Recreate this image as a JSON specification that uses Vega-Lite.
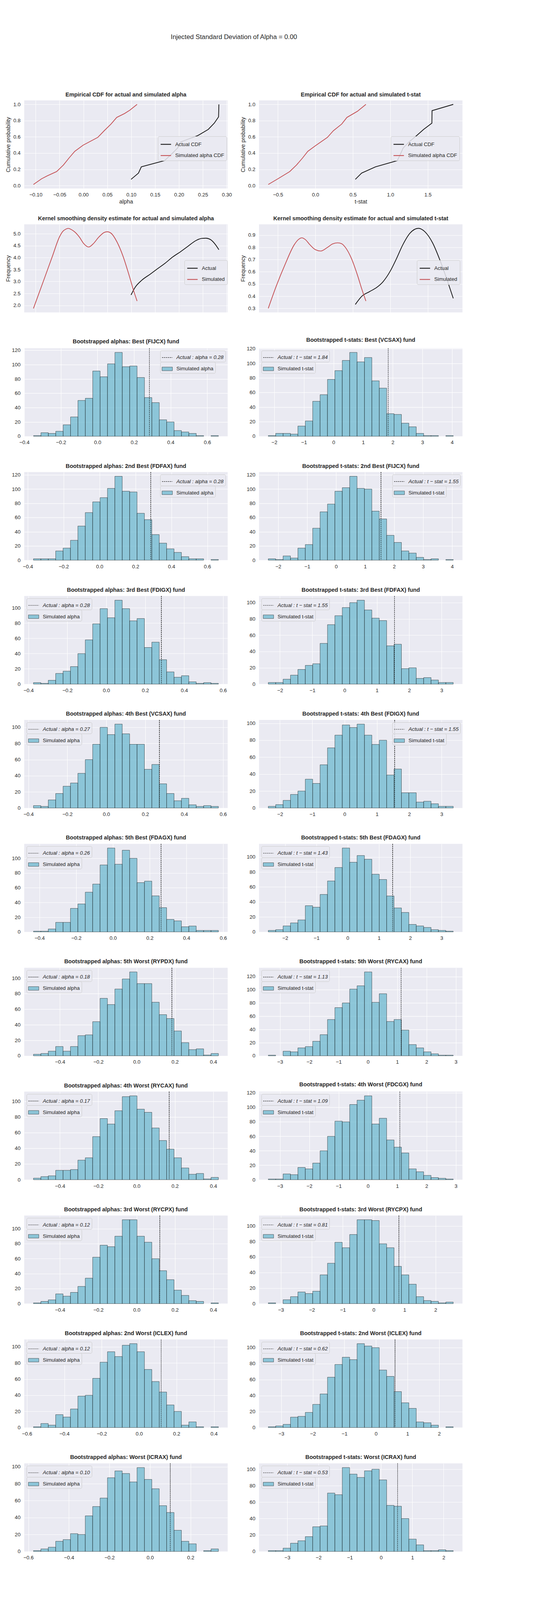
{
"$schema":"https://vega.github.io/schema/vega-lite/v6.json",
"background":"white",
"padding":{"left":13,"top":86,"right":0,"bottom":0},
"title":{"text":"Injected Standard Deviation of Alpha = 0.00","fontSize":16.8,"fontWeight":"normal","anchor":"middle","frame":"bounds","offset":118,"baseline":"alphabetic"},
"columns":2,
"spacing":{"row":91.2,"column":80},
"bounds":"flush",
"resolve":{"scale":{"color":"independent","fill":"independent","strokeDash":"independent"},"legend":{"color":"independent","fill":"independent","strokeDash":"independent"}},
"datasets":{
"cdfA":[{"x":0.0997,"y":0.0769,"s":"Actual CDF"},{"x":0.1152,"y":0.1538,"s":"Actual CDF"},{"x":0.1212,"y":0.2308,"s":"Actual CDF"},{"x":0.1698,"y":0.3077,"s":"Actual CDF"},{"x":0.184,"y":0.3846,"s":"Actual CDF"},{"x":0.197,"y":0.4615,"s":"Actual CDF"},{"x":0.204,"y":0.5385,"s":"Actual CDF"},{"x":0.2393,"y":0.6154,"s":"Actual CDF"},{"x":0.2614,"y":0.6923,"s":"Actual CDF"},{"x":0.274,"y":0.7692,"s":"Actual CDF"},{"x":0.2829,"y":0.8462,"s":"Actual CDF"},{"x":0.2833,"y":0.9231,"s":"Actual CDF"},{"x":0.2836,"y":1.0,"s":"Actual CDF"},
{"x":-0.1047,"y":0.0137,"s":"Simulated alpha CDF"},{"x":-0.0877,"y":0.0836,"s":"Simulated alpha CDF"},{"x":-0.0757,"y":0.1205,"s":"Simulated alpha CDF"},{"x":-0.0561,"y":0.1726,"s":"Simulated alpha CDF"},{"x":-0.0419,"y":0.2534,"s":"Simulated alpha CDF"},{"x":-0.0302,"y":0.3397,"s":"Simulated alpha CDF"},{"x":-0.0182,"y":0.4219,"s":"Simulated alpha CDF"},{"x":-0.0008,"y":0.4973,"s":"Simulated alpha CDF"},{"x":0.0299,"y":0.5932,"s":"Simulated alpha CDF"},{"x":0.0434,"y":0.6753,"s":"Simulated alpha CDF"},{"x":0.0577,"y":0.7575,"s":"Simulated alpha CDF"},{"x":0.0697,"y":0.8397,"s":"Simulated alpha CDF"},{"x":0.0861,"y":0.8877,"s":"Simulated alpha CDF"},{"x":0.0972,"y":0.9288,"s":"Simulated alpha CDF"},{"x":0.1123,"y":1.0,"s":"Simulated alpha CDF"}],
"cdfT":[{"x":0.533,"y":0.0769,"s":"Actual CDF"},{"x":0.617,"y":0.1538,"s":"Actual CDF"},{"x":0.802,"y":0.2308,"s":"Actual CDF"},{"x":1.093,"y":0.3077,"s":"Actual CDF"},{"x":1.133,"y":0.3846,"s":"Actual CDF"},{"x":1.17,"y":0.4615,"s":"Actual CDF"},{"x":1.25,"y":0.5385,"s":"Actual CDF"},{"x":1.35,"y":0.6154,"s":"Actual CDF"},{"x":1.444,"y":0.6923,"s":"Actual CDF"},{"x":1.554,"y":0.7692,"s":"Actual CDF"},{"x":1.555,"y":0.8462,"s":"Actual CDF"},{"x":1.556,"y":0.9231,"s":"Actual CDF"},{"x":1.839,"y":1.0,"s":"Actual CDF"},
{"x":-0.628,"y":0.0137,"s":"Simulated alpha CDF"},{"x":-0.5,"y":0.0836,"s":"Simulated alpha CDF"},{"x":-0.342,"y":0.1726,"s":"Simulated alpha CDF"},{"x":-0.251,"y":0.2534,"s":"Simulated alpha CDF"},{"x":-0.171,"y":0.3397,"s":"Simulated alpha CDF"},{"x":-0.101,"y":0.4219,"s":"Simulated alpha CDF"},{"x":-0.0005,"y":0.4904,"s":"Simulated alpha CDF"},{"x":0.16,"y":0.5932,"s":"Simulated alpha CDF"},{"x":0.24,"y":0.6753,"s":"Simulated alpha CDF"},{"x":0.351,"y":0.7575,"s":"Simulated alpha CDF"},{"x":0.421,"y":0.8397,"s":"Simulated alpha CDF"},{"x":0.561,"y":0.915,"s":"Simulated alpha CDF"},{"x":0.674,"y":1.0,"s":"Simulated alpha CDF"}],
"kdeA":[{"x":0.0997,"y":2.44,"s":"Actual"},{"x":0.108,"y":2.75,"s":"Actual"},{"x":0.1208,"y":3.03,"s":"Actual"},{"x":0.14,"y":3.31,"s":"Actual"},{"x":0.1556,"y":3.54,"s":"Actual"},{"x":0.1714,"y":3.77,"s":"Actual"},{"x":0.1872,"y":4.03,"s":"Actual"},{"x":0.203,"y":4.24,"s":"Actual"},{"x":0.2188,"y":4.47,"s":"Actual"},{"x":0.2346,"y":4.7,"s":"Actual"},{"x":0.2472,"y":4.8,"s":"Actual"},{"x":0.2567,"y":4.81,"s":"Actual"},{"x":0.2662,"y":4.75,"s":"Actual"},{"x":0.2757,"y":4.56,"s":"Actual"},{"x":0.2836,"y":4.33,"s":"Actual"},
{"x":-0.1047,"y":1.875,"s":"Simulated"},{"x":-0.0814,"y":3.15,"s":"Simulated"},{"x":-0.0656,"y":4.02,"s":"Simulated"},{"x":-0.0498,"y":4.88,"s":"Simulated"},{"x":-0.0434,"y":5.09,"s":"Simulated"},{"x":-0.0371,"y":5.185,"s":"Simulated"},{"x":-0.0318,"y":5.22,"s":"Simulated"},{"x":-0.0245,"y":5.16,"s":"Simulated"},{"x":-0.0182,"y":5.07,"s":"Simulated"},{"x":-0.0087,"y":4.86,"s":"Simulated"},{"x":0.0008,"y":4.58,"s":"Simulated"},{"x":0.0109,"y":4.44,"s":"Simulated"},{"x":0.0197,"y":4.56,"s":"Simulated"},{"x":0.0324,"y":4.86,"s":"Simulated"},{"x":0.0434,"y":5.05,"s":"Simulated"},{"x":0.0498,"y":5.08,"s":"Simulated"},{"x":0.0577,"y":5.02,"s":"Simulated"},{"x":0.0703,"y":4.65,"s":"Simulated"},{"x":0.083,"y":4.05,"s":"Simulated"},{"x":0.0956,"y":3.26,"s":"Simulated"},{"x":0.1066,"y":2.52,"s":"Simulated"},{"x":0.1123,"y":2.185,"s":"Simulated"}],
"kdeT":[{"x":0.533,"y":0.332,"s":"Actual"},{"x":0.621,"y":0.4,"s":"Actual"},{"x":0.722,"y":0.437,"s":"Actual"},{"x":0.822,"y":0.473,"s":"Actual"},{"x":0.902,"y":0.518,"s":"Actual"},{"x":1.002,"y":0.609,"s":"Actual"},{"x":1.083,"y":0.709,"s":"Actual"},{"x":1.163,"y":0.817,"s":"Actual"},{"x":1.263,"y":0.917,"s":"Actual"},{"x":1.374,"y":0.956,"s":"Actual"},{"x":1.464,"y":0.926,"s":"Actual"},{"x":1.564,"y":0.836,"s":"Actual"},{"x":1.664,"y":0.691,"s":"Actual"},{"x":1.765,"y":0.518,"s":"Actual"},{"x":1.839,"y":0.382,"s":"Actual"},
{"x":-0.628,"y":0.3,"s":"Simulated"},{"x":-0.522,"y":0.482,"s":"Simulated"},{"x":-0.402,"y":0.663,"s":"Simulated"},{"x":-0.281,"y":0.822,"s":"Simulated"},{"x":-0.23,"y":0.862,"s":"Simulated"},{"x":-0.181,"y":0.878,"s":"Simulated"},{"x":-0.13,"y":0.862,"s":"Simulated"},{"x":-0.081,"y":0.827,"s":"Simulated"},{"x":0.0,"y":0.781,"s":"Simulated"},{"x":0.072,"y":0.77,"s":"Simulated"},{"x":0.16,"y":0.799,"s":"Simulated"},{"x":0.23,"y":0.828,"s":"Simulated"},{"x":0.296,"y":0.837,"s":"Simulated"},{"x":0.35,"y":0.83,"s":"Simulated"},{"x":0.401,"y":0.799,"s":"Simulated"},{"x":0.481,"y":0.709,"s":"Simulated"},{"x":0.561,"y":0.573,"s":"Simulated"},{"x":0.621,"y":0.455,"s":"Simulated"},{"x":0.674,"y":0.36,"s":"Simulated"}],
"A1":[{"a":-0.349,"b":-0.3086,"n":1},{"a":-0.3086,"b":-0.2682,"n":5},{"a":-0.2682,"b":-0.2278,"n":4},{"a":-0.2278,"b":-0.1874,"n":7},{"a":-0.1874,"b":-0.147,"n":16},{"a":-0.147,"b":-0.1066,"n":27},{"a":-0.1066,"b":-0.0662,"n":50},{"a":-0.0662,"b":-0.0258,"n":53},{"a":-0.0258,"b":0.0146,"n":91},{"a":0.0146,"b":0.055,"n":83},{"a":0.055,"b":0.0954,"n":101},{"a":0.0954,"b":0.1358,"n":117},{"a":0.1358,"b":0.1762,"n":97},{"a":0.1762,"b":0.2166,"n":98},{"a":0.2166,"b":0.257,"n":82},{"a":0.257,"b":0.2974,"n":54},{"a":0.2974,"b":0.3378,"n":47},{"a":0.3378,"b":0.3782,"n":23},{"a":0.3782,"b":0.4186,"n":20},{"a":0.4186,"b":0.459,"n":8},{"a":0.459,"b":0.4994,"n":6},{"a":0.4994,"b":0.5398,"n":4},{"a":0.5398,"b":0.5802,"n":1},{"a":0.6206,"b":0.661,"n":1}],
"T1":[{"a":-2.2,"b":-1.9504,"n":1},{"a":-1.9504,"b":-1.7008,"n":4},{"a":-1.7008,"b":-1.4512,"n":4},{"a":-1.4512,"b":-1.2016,"n":3},{"a":-1.2016,"b":-0.952,"n":14},{"a":-0.952,"b":-0.7024,"n":21},{"a":-0.7024,"b":-0.4528,"n":48},{"a":-0.4528,"b":-0.2032,"n":57},{"a":-0.2032,"b":0.0464,"n":78},{"a":0.0464,"b":0.296,"n":90},{"a":0.296,"b":0.5456,"n":104},{"a":0.5456,"b":0.7952,"n":115},{"a":0.7952,"b":1.0448,"n":102},{"a":1.0448,"b":1.2944,"n":108},{"a":1.2944,"b":1.544,"n":76},{"a":1.544,"b":1.7936,"n":66},{"a":1.7936,"b":2.0432,"n":31},{"a":2.0432,"b":2.2928,"n":30},{"a":2.2928,"b":2.5424,"n":18},{"a":2.5424,"b":2.792,"n":13},{"a":2.792,"b":3.0416,"n":4},{"a":3.0416,"b":3.2912,"n":1},{"a":3.2912,"b":3.5408,"n":1},{"a":3.7904,"b":4.04,"n":1}],
"A2":[{"a":-0.368,"b":-0.3268,"n":2},{"a":-0.3268,"b":-0.2856,"n":2},{"a":-0.2856,"b":-0.2444,"n":2},{"a":-0.2444,"b":-0.2032,"n":13},{"a":-0.2032,"b":-0.162,"n":17},{"a":-0.162,"b":-0.1208,"n":28},{"a":-0.1208,"b":-0.0796,"n":48},{"a":-0.0796,"b":-0.0384,"n":67},{"a":-0.0384,"b":0.0028,"n":82},{"a":0.0028,"b":0.044,"n":88},{"a":0.044,"b":0.0852,"n":101},{"a":0.0852,"b":0.1264,"n":118},{"a":0.1264,"b":0.1676,"n":97},{"a":0.1676,"b":0.2088,"n":96},{"a":0.2088,"b":0.25,"n":66},{"a":0.25,"b":0.2912,"n":57},{"a":0.2912,"b":0.3324,"n":36},{"a":0.3324,"b":0.3736,"n":24},{"a":0.3736,"b":0.4148,"n":16},{"a":0.4148,"b":0.456,"n":11},{"a":0.456,"b":0.4972,"n":5},{"a":0.4972,"b":0.5384,"n":2},{"a":0.5384,"b":0.5796,"n":2},{"a":0.6208,"b":0.662,"n":1}],
"T2":[{"a":-2.34,"b":-2.0848,"n":2},{"a":-2.0848,"b":-1.8296,"n":1},{"a":-1.8296,"b":-1.5744,"n":6},{"a":-1.5744,"b":-1.3192,"n":3},{"a":-1.3192,"b":-1.064,"n":17},{"a":-1.064,"b":-0.8088,"n":22},{"a":-0.8088,"b":-0.5536,"n":45},{"a":-0.5536,"b":-0.2984,"n":68},{"a":-0.2984,"b":-0.0432,"n":79},{"a":-0.0432,"b":0.212,"n":97},{"a":0.212,"b":0.4672,"n":102},{"a":0.4672,"b":0.7224,"n":118},{"a":0.7224,"b":0.9776,"n":101},{"a":0.9776,"b":1.2328,"n":100},{"a":1.2328,"b":1.488,"n":69},{"a":1.488,"b":1.7432,"n":58},{"a":1.7432,"b":1.9984,"n":35},{"a":1.9984,"b":2.2536,"n":25},{"a":2.2536,"b":2.5088,"n":13},{"a":2.5088,"b":2.764,"n":10},{"a":2.764,"b":3.0192,"n":4},{"a":3.0192,"b":3.2744,"n":1},{"a":3.2744,"b":3.5296,"n":2},{"a":3.7848,"b":4.04,"n":1}],
"A3":[{"a":-0.374,"b":-0.336,"n":2},{"a":-0.336,"b":-0.298,"n":1},{"a":-0.298,"b":-0.26,"n":5},{"a":-0.26,"b":-0.222,"n":14},{"a":-0.222,"b":-0.184,"n":17},{"a":-0.184,"b":-0.146,"n":23},{"a":-0.146,"b":-0.108,"n":40},{"a":-0.108,"b":-0.07,"n":58},{"a":-0.07,"b":-0.032,"n":79},{"a":-0.032,"b":0.006,"n":99},{"a":0.006,"b":0.044,"n":87},{"a":0.044,"b":0.082,"n":110},{"a":0.082,"b":0.12,"n":99},{"a":0.12,"b":0.158,"n":83},{"a":0.158,"b":0.196,"n":86},{"a":0.196,"b":0.234,"n":48},{"a":0.234,"b":0.272,"n":55},{"a":0.272,"b":0.31,"n":32},{"a":0.31,"b":0.348,"n":16},{"a":0.348,"b":0.386,"n":9},{"a":0.386,"b":0.424,"n":11},{"a":0.424,"b":0.462,"n":3},{"a":0.462,"b":0.5,"n":1},{"a":0.5,"b":0.538,"n":2},{"a":0.538,"b":0.576,"n":1}],
"T3":[{"a":-2.36,"b":-2.1312,"n":2},{"a":-2.1312,"b":-1.9024,"n":2},{"a":-1.9024,"b":-1.6736,"n":6},{"a":-1.6736,"b":-1.4448,"n":11},{"a":-1.4448,"b":-1.216,"n":18},{"a":-1.216,"b":-0.9872,"n":23},{"a":-0.9872,"b":-0.7584,"n":25},{"a":-0.7584,"b":-0.5296,"n":50},{"a":-0.5296,"b":-0.3008,"n":73},{"a":-0.3008,"b":-0.072,"n":84},{"a":-0.072,"b":0.1568,"n":94},{"a":0.1568,"b":0.3856,"n":100},{"a":0.3856,"b":0.6144,"n":103},{"a":0.6144,"b":0.8432,"n":91},{"a":0.8432,"b":1.072,"n":81},{"a":1.072,"b":1.3008,"n":78},{"a":1.3008,"b":1.5296,"n":47},{"a":1.5296,"b":1.7584,"n":49},{"a":1.7584,"b":1.9872,"n":19},{"a":1.9872,"b":2.216,"n":20},{"a":2.216,"b":2.4448,"n":7},{"a":2.4448,"b":2.6736,"n":8},{"a":2.6736,"b":2.9024,"n":5},{"a":2.9024,"b":3.1312,"n":2},{"a":3.1312,"b":3.36,"n":2}],
"A4":[{"a":-0.374,"b":-0.336,"n":3},{"a":-0.336,"b":-0.298,"n":2},{"a":-0.298,"b":-0.26,"n":10},{"a":-0.26,"b":-0.222,"n":18},{"a":-0.222,"b":-0.184,"n":27},{"a":-0.184,"b":-0.146,"n":31},{"a":-0.146,"b":-0.108,"n":43},{"a":-0.108,"b":-0.07,"n":60},{"a":-0.07,"b":-0.032,"n":79},{"a":-0.032,"b":0.006,"n":100},{"a":0.006,"b":0.044,"n":91},{"a":0.044,"b":0.082,"n":104},{"a":0.082,"b":0.12,"n":92},{"a":0.12,"b":0.158,"n":79},{"a":0.158,"b":0.196,"n":79},{"a":0.196,"b":0.234,"n":48},{"a":0.234,"b":0.272,"n":54},{"a":0.272,"b":0.31,"n":30},{"a":0.31,"b":0.348,"n":18},{"a":0.348,"b":0.386,"n":9},{"a":0.386,"b":0.424,"n":12},{"a":0.424,"b":0.462,"n":4},{"a":0.462,"b":0.5,"n":2},{"a":0.5,"b":0.538,"n":3},{"a":0.538,"b":0.576,"n":2}],
"T4":[{"a":-2.36,"b":-2.1312,"n":2},{"a":-2.1312,"b":-1.9024,"n":4},{"a":-1.9024,"b":-1.6736,"n":9},{"a":-1.6736,"b":-1.4448,"n":16},{"a":-1.4448,"b":-1.216,"n":20},{"a":-1.216,"b":-0.9872,"n":34},{"a":-0.9872,"b":-0.7584,"n":29},{"a":-0.7584,"b":-0.5296,"n":51},{"a":-0.5296,"b":-0.3008,"n":71},{"a":-0.3008,"b":-0.072,"n":86},{"a":-0.072,"b":0.1568,"n":98},{"a":0.1568,"b":0.3856,"n":95},{"a":0.3856,"b":0.6144,"n":99},{"a":0.6144,"b":0.8432,"n":86},{"a":0.8432,"b":1.072,"n":75},{"a":1.072,"b":1.3008,"n":80},{"a":1.3008,"b":1.5296,"n":39},{"a":1.5296,"b":1.7584,"n":46},{"a":1.7584,"b":1.9872,"n":18},{"a":1.9872,"b":2.216,"n":18},{"a":2.216,"b":2.4448,"n":7},{"a":2.4448,"b":2.6736,"n":8},{"a":2.6736,"b":2.9024,"n":5},{"a":2.9024,"b":3.1312,"n":2},{"a":3.1312,"b":3.36,"n":2}],
"A5":[{"a":-0.4327,"b":-0.3924,"n":1},{"a":-0.3924,"b":-0.3522,"n":1},{"a":-0.3522,"b":-0.3119,"n":4},{"a":-0.3119,"b":-0.2716,"n":13},{"a":-0.2716,"b":-0.2314,"n":13},{"a":-0.2314,"b":-0.1911,"n":32},{"a":-0.1911,"b":-0.1508,"n":38},{"a":-0.1508,"b":-0.1105,"n":54},{"a":-0.1105,"b":-0.0703,"n":65},{"a":-0.0703,"b":-0.03,"n":91},{"a":-0.03,"b":0.0103,"n":114},{"a":0.0103,"b":0.0505,"n":92},{"a":0.0505,"b":0.0908,"n":111},{"a":0.0908,"b":0.1311,"n":100},{"a":0.1311,"b":0.1714,"n":67},{"a":0.1714,"b":0.2116,"n":69},{"a":0.2116,"b":0.2519,"n":49},{"a":0.2519,"b":0.2922,"n":33},{"a":0.2922,"b":0.3324,"n":17},{"a":0.3324,"b":0.3727,"n":15},{"a":0.3727,"b":0.413,"n":7},{"a":0.413,"b":0.4532,"n":8},{"a":0.4532,"b":0.4935,"n":2},{"a":0.4935,"b":0.5338,"n":2},{"a":0.5338,"b":0.5741,"n":2}],
"T5":[{"a":-2.536,"b":-2.2996,"n":2},{"a":-2.2996,"b":-2.0632,"n":3},{"a":-2.0632,"b":-1.8268,"n":8},{"a":-1.8268,"b":-1.5904,"n":12},{"a":-1.5904,"b":-1.354,"n":16},{"a":-1.354,"b":-1.1176,"n":35},{"a":-1.1176,"b":-0.8812,"n":33},{"a":-0.8812,"b":-0.6448,"n":50},{"a":-0.6448,"b":-0.4084,"n":68},{"a":-0.4084,"b":-0.172,"n":86},{"a":-0.172,"b":0.0644,"n":112},{"a":0.0644,"b":0.3008,"n":93},{"a":0.3008,"b":0.5372,"n":102},{"a":0.5372,"b":0.7736,"n":97},{"a":0.7736,"b":1.01,"n":77},{"a":1.01,"b":1.2464,"n":70},{"a":1.2464,"b":1.4828,"n":48},{"a":1.4828,"b":1.7192,"n":32},{"a":1.7192,"b":1.9556,"n":26},{"a":1.9556,"b":2.192,"n":10},{"a":2.192,"b":2.4284,"n":8},{"a":2.4284,"b":2.6648,"n":6},{"a":2.6648,"b":2.9012,"n":3},{"a":2.9012,"b":3.1376,"n":2},{"a":3.1376,"b":3.374,"n":1}],
"A6":[{"a":-0.5378,"b":-0.4992,"n":2},{"a":-0.4992,"b":-0.4606,"n":3},{"a":-0.4606,"b":-0.4221,"n":6},{"a":-0.4221,"b":-0.3835,"n":12},{"a":-0.3835,"b":-0.3449,"n":6},{"a":-0.3449,"b":-0.3063,"n":12},{"a":-0.3063,"b":-0.2677,"n":26},{"a":-0.2677,"b":-0.2292,"n":27},{"a":-0.2292,"b":-0.1906,"n":44},{"a":-0.1906,"b":-0.152,"n":74},{"a":-0.152,"b":-0.1134,"n":66},{"a":-0.1134,"b":-0.0748,"n":86},{"a":-0.0748,"b":-0.0363,"n":99},{"a":-0.0363,"b":0.0023,"n":108},{"a":0.0023,"b":0.0409,"n":93},{"a":0.0409,"b":0.0795,"n":93},{"a":0.0795,"b":0.1181,"n":69},{"a":0.1181,"b":0.1566,"n":53},{"a":0.1566,"b":0.1952,"n":48},{"a":0.1952,"b":0.2338,"n":32},{"a":0.2338,"b":0.2724,"n":17},{"a":0.2724,"b":0.311,"n":8},{"a":0.311,"b":0.3495,"n":9},{"a":0.3495,"b":0.3881,"n":1},{"a":0.3881,"b":0.4267,"n":3}],
"T6":[{"a":-3.399,"b":-3.1466,"n":1},{"a":-2.8942,"b":-2.6418,"n":7},{"a":-2.6418,"b":-2.3894,"n":6},{"a":-2.3894,"b":-2.137,"n":12},{"a":-2.137,"b":-1.8846,"n":14},{"a":-1.8846,"b":-1.6322,"n":22},{"a":-1.6322,"b":-1.3798,"n":32},{"a":-1.3798,"b":-1.1274,"n":55},{"a":-1.1274,"b":-0.875,"n":73},{"a":-0.875,"b":-0.6226,"n":80},{"a":-0.6226,"b":-0.3702,"n":101},{"a":-0.3702,"b":-0.1178,"n":106},{"a":-0.1178,"b":0.1346,"n":127},{"a":0.1346,"b":0.387,"n":81},{"a":0.387,"b":0.6394,"n":94},{"a":0.6394,"b":0.8918,"n":52},{"a":0.8918,"b":1.1442,"n":55},{"a":1.1442,"b":1.3966,"n":39},{"a":1.3966,"b":1.649,"n":17},{"a":1.649,"b":1.9014,"n":12},{"a":1.9014,"b":2.1538,"n":6},{"a":2.1538,"b":2.4062,"n":3},{"a":2.4062,"b":2.6586,"n":1},{"a":2.6586,"b":2.911,"n":1}],
"A7":[{"a":-0.5378,"b":-0.4992,"n":2},{"a":-0.4992,"b":-0.4606,"n":4},{"a":-0.4606,"b":-0.4221,"n":5},{"a":-0.4221,"b":-0.3835,"n":12},{"a":-0.3835,"b":-0.3449,"n":12},{"a":-0.3449,"b":-0.3063,"n":13},{"a":-0.3063,"b":-0.2677,"n":25},{"a":-0.2677,"b":-0.2292,"n":28},{"a":-0.2292,"b":-0.1906,"n":55},{"a":-0.1906,"b":-0.152,"n":78},{"a":-0.152,"b":-0.1134,"n":71},{"a":-0.1134,"b":-0.0748,"n":88},{"a":-0.0748,"b":-0.0363,"n":106},{"a":-0.0363,"b":0.0023,"n":107},{"a":0.0023,"b":0.0409,"n":90},{"a":0.0409,"b":0.0795,"n":86},{"a":0.0795,"b":0.1181,"n":66},{"a":0.1181,"b":0.1566,"n":50},{"a":0.1566,"b":0.1952,"n":39},{"a":0.1952,"b":0.2338,"n":28},{"a":0.2338,"b":0.2724,"n":15},{"a":0.2724,"b":0.311,"n":7},{"a":0.311,"b":0.3495,"n":8},{"a":0.3495,"b":0.3881,"n":1},{"a":0.3881,"b":0.4267,"n":3}],
"T7":[{"a":-3.399,"b":-3.1466,"n":1},{"a":-3.1466,"b":-2.8942,"n":1},{"a":-2.8942,"b":-2.6418,"n":8},{"a":-2.6418,"b":-2.3894,"n":7},{"a":-2.3894,"b":-2.137,"n":17},{"a":-2.137,"b":-1.8846,"n":15},{"a":-1.8846,"b":-1.6322,"n":23},{"a":-1.6322,"b":-1.3798,"n":40},{"a":-1.3798,"b":-1.1274,"n":60},{"a":-1.1274,"b":-0.875,"n":81},{"a":-0.875,"b":-0.6226,"n":80},{"a":-0.6226,"b":-0.3702,"n":104},{"a":-0.3702,"b":-0.1178,"n":110},{"a":-0.1178,"b":0.1346,"n":116},{"a":0.1346,"b":0.387,"n":77},{"a":0.387,"b":0.6394,"n":85},{"a":0.6394,"b":0.8918,"n":55},{"a":0.8918,"b":1.1442,"n":45},{"a":1.1442,"b":1.3966,"n":37},{"a":1.3966,"b":1.649,"n":15},{"a":1.649,"b":1.9014,"n":11},{"a":1.9014,"b":2.1538,"n":6},{"a":2.1538,"b":2.4062,"n":3},{"a":2.4062,"b":2.6586,"n":2},{"a":2.6586,"b":2.911,"n":1}],
"A8":[{"a":-0.5378,"b":-0.4992,"n":1},{"a":-0.4992,"b":-0.4606,"n":3},{"a":-0.4606,"b":-0.4221,"n":5},{"a":-0.4221,"b":-0.3835,"n":13},{"a":-0.3835,"b":-0.3449,"n":10},{"a":-0.3449,"b":-0.3063,"n":15},{"a":-0.3063,"b":-0.2677,"n":23},{"a":-0.2677,"b":-0.2292,"n":34},{"a":-0.2292,"b":-0.1906,"n":62},{"a":-0.1906,"b":-0.152,"n":78},{"a":-0.152,"b":-0.1134,"n":76},{"a":-0.1134,"b":-0.0748,"n":90},{"a":-0.0748,"b":-0.0363,"n":112},{"a":-0.0363,"b":0.0023,"n":112},{"a":0.0023,"b":0.0409,"n":90},{"a":0.0409,"b":0.0795,"n":82},{"a":0.0795,"b":0.1181,"n":60},{"a":0.1181,"b":0.1566,"n":44},{"a":0.1566,"b":0.1952,"n":32},{"a":0.1952,"b":0.2338,"n":18},{"a":0.2338,"b":0.2724,"n":11},{"a":0.2724,"b":0.311,"n":4},{"a":0.311,"b":0.3495,"n":3},{"a":0.3881,"b":0.4267,"n":1}],
"T8":[{"a":-3.407,"b":-3.1678,"n":1},{"a":-2.9286,"b":-2.6894,"n":5},{"a":-2.6894,"b":-2.4502,"n":9},{"a":-2.4502,"b":-2.211,"n":15},{"a":-2.211,"b":-1.9718,"n":13},{"a":-1.9718,"b":-1.7326,"n":16},{"a":-1.7326,"b":-1.4934,"n":37},{"a":-1.4934,"b":-1.2542,"n":52},{"a":-1.2542,"b":-1.015,"n":79},{"a":-1.015,"b":-0.7758,"n":72},{"a":-0.7758,"b":-0.5366,"n":89},{"a":-0.5366,"b":-0.2974,"n":108},{"a":-0.2974,"b":-0.0582,"n":108},{"a":-0.0582,"b":0.181,"n":107},{"a":0.181,"b":0.4202,"n":77},{"a":0.4202,"b":0.6594,"n":72},{"a":0.6594,"b":0.8986,"n":48},{"a":0.8986,"b":1.1378,"n":37},{"a":1.1378,"b":1.377,"n":25},{"a":1.377,"b":1.6162,"n":9},{"a":1.6162,"b":1.8554,"n":4},{"a":1.8554,"b":2.0946,"n":3},{"a":2.0946,"b":2.3338,"n":1},{"a":2.3338,"b":2.573,"n":2}],
"A9":[{"a":-0.5647,"b":-0.5252,"n":1},{"a":-0.5252,"b":-0.4856,"n":5},{"a":-0.4856,"b":-0.4461,"n":3},{"a":-0.4461,"b":-0.4065,"n":16},{"a":-0.4065,"b":-0.367,"n":13},{"a":-0.367,"b":-0.3274,"n":23},{"a":-0.3274,"b":-0.2879,"n":39},{"a":-0.2879,"b":-0.2483,"n":40},{"a":-0.2483,"b":-0.2088,"n":61},{"a":-0.2088,"b":-0.1692,"n":81},{"a":-0.1692,"b":-0.1297,"n":94},{"a":-0.1297,"b":-0.0901,"n":88},{"a":-0.0901,"b":-0.0506,"n":102},{"a":-0.0506,"b":-0.011,"n":104},{"a":-0.011,"b":0.0286,"n":94},{"a":0.0286,"b":0.0681,"n":72},{"a":0.0681,"b":0.1077,"n":57},{"a":0.1077,"b":0.1472,"n":44},{"a":0.1472,"b":0.1868,"n":28},{"a":0.1868,"b":0.2263,"n":20},{"a":0.2263,"b":0.2659,"n":3},{"a":0.2659,"b":0.3054,"n":7},{"a":0.3054,"b":0.345,"n":1},{"a":0.3845,"b":0.4241,"n":1}],
"T9":[{"a":-3.408,"b":-3.1738,"n":1},{"a":-3.1738,"b":-2.9396,"n":2},{"a":-2.9396,"b":-2.7054,"n":4},{"a":-2.7054,"b":-2.4712,"n":13},{"a":-2.4712,"b":-2.237,"n":14},{"a":-2.237,"b":-2.0028,"n":19},{"a":-2.0028,"b":-1.7686,"n":29},{"a":-1.7686,"b":-1.5344,"n":42},{"a":-1.5344,"b":-1.3002,"n":63},{"a":-1.3002,"b":-1.066,"n":79},{"a":-1.066,"b":-0.8318,"n":88},{"a":-0.8318,"b":-0.5976,"n":85},{"a":-0.5976,"b":-0.3634,"n":105},{"a":-0.3634,"b":-0.1292,"n":102},{"a":-0.1292,"b":0.105,"n":100},{"a":0.105,"b":0.3392,"n":72},{"a":0.3392,"b":0.5734,"n":64},{"a":0.5734,"b":0.8076,"n":45},{"a":0.8076,"b":1.0418,"n":31},{"a":1.0418,"b":1.276,"n":24},{"a":1.276,"b":1.5102,"n":7},{"a":1.5102,"b":1.7444,"n":6},{"a":1.7444,"b":1.9786,"n":3},{"a":2.2128,"b":2.447,"n":1}],
"A10":[{"a":-0.5748,"b":-0.5383,"n":1},{"a":-0.5383,"b":-0.5018,"n":3},{"a":-0.5018,"b":-0.4653,"n":5},{"a":-0.4653,"b":-0.4288,"n":12},{"a":-0.4288,"b":-0.3923,"n":14},{"a":-0.3923,"b":-0.3558,"n":21},{"a":-0.3558,"b":-0.3193,"n":20},{"a":-0.3193,"b":-0.2828,"n":42},{"a":-0.2828,"b":-0.2463,"n":53},{"a":-0.2463,"b":-0.2098,"n":63},{"a":-0.2098,"b":-0.1733,"n":87},{"a":-0.1733,"b":-0.1368,"n":95},{"a":-0.1368,"b":-0.1003,"n":92},{"a":-0.1003,"b":-0.0638,"n":82},{"a":-0.0638,"b":-0.0273,"n":99},{"a":-0.0273,"b":0.0092,"n":85},{"a":0.0092,"b":0.0457,"n":74},{"a":0.0457,"b":0.0822,"n":54},{"a":0.0822,"b":0.1187,"n":46},{"a":0.1187,"b":0.1552,"n":25},{"a":0.1552,"b":0.1917,"n":12},{"a":0.1917,"b":0.2282,"n":9},{"a":0.2647,"b":0.3012,"n":1},{"a":0.3012,"b":0.3377,"n":3}],
"T10":[{"a":-3.603,"b":-3.3666,"n":1},{"a":-3.3666,"b":-3.1302,"n":1},{"a":-3.1302,"b":-2.8938,"n":4},{"a":-2.8938,"b":-2.6574,"n":10},{"a":-2.6574,"b":-2.421,"n":13},{"a":-2.421,"b":-2.1846,"n":18},{"a":-2.1846,"b":-1.9482,"n":30},{"a":-1.9482,"b":-1.7118,"n":31},{"a":-1.7118,"b":-1.4754,"n":71},{"a":-1.4754,"b":-1.239,"n":69},{"a":-1.239,"b":-1.0026,"n":102},{"a":-1.0026,"b":-0.7662,"n":94},{"a":-0.7662,"b":-0.5298,"n":90},{"a":-0.5298,"b":-0.2934,"n":98},{"a":-0.2934,"b":-0.057,"n":100},{"a":-0.057,"b":0.1794,"n":87},{"a":0.1794,"b":0.4158,"n":56},{"a":0.4158,"b":0.6522,"n":55},{"a":0.6522,"b":0.8886,"n":40},{"a":0.8886,"b":1.125,"n":15},{"a":1.125,"b":1.3614,"n":8},{"a":1.3614,"b":1.5978,"n":1},{"a":1.5978,"b":1.8342,"n":1},{"a":1.8342,"b":2.0706,"n":2},{"a":2.0706,"b":2.307,"n":1}]
},
"concat":[
{"title":"Empirical CDF for actual and simulated alpha","width":520.7,"height":225.5,"data":{"name":"cdfA"},"mark":{"type":"line","strokeWidth":1.9},
 "encoding":{"x":{"field":"x","type":"quantitative","scale":{"domain":[-0.124,0.302],"nice":false,"zero":false},"axis":{"values":[-0.1,-0.05,0,0.05,0.1,0.15,0.2,0.25,0.3],"format":".2f","title":"alpha"}},
 "y":{"field":"y","type":"quantitative","scale":{"domain":[-0.0356,1.0493],"nice":false,"zero":false},"axis":{"values":[0,0.2,0.4,0.6,0.8,1],"format":".1f","title":"Cumulative probability"}},
 "color":{"field":"s","type":"nominal","scale":{"domain":["Actual CDF","Simulated alpha CDF"],"range":["#111111","#C44E52"]},"legend":{"orient":"none","legendX":342,"legendY":92,"title":null,"symbolType":"stroke","symbolStrokeWidth":2.15,"padding":6,"rowPadding":7.7}},
 "order":{"field":"y","type":"quantitative"}}},
{"title":"Empirical CDF for actual and simulated t-stat","width":520.7,"height":225.5,"data":{"name":"cdfT"},"mark":{"type":"line","strokeWidth":1.9},
 "encoding":{"x":{"field":"x","type":"quantitative","scale":{"domain":[-0.751,1.962],"nice":false,"zero":false},"axis":{"values":[-0.5,0,0.5,1,1.5],"format":".1f","title":"t-stat"}},
 "y":{"field":"y","type":"quantitative","scale":{"domain":[-0.0356,1.0493],"nice":false,"zero":false},"axis":{"values":[0,0.2,0.4,0.6,0.8,1],"format":".1f","title":"Cumulative probability"}},
 "color":{"field":"s","type":"nominal","scale":{"domain":["Actual CDF","Simulated alpha CDF"],"range":["#111111","#C44E52"]},"legend":{"orient":"none","legendX":337,"legendY":92,"title":null,"symbolType":"stroke","symbolStrokeWidth":2.15,"padding":6,"rowPadding":7.7}},
 "order":{"field":"y","type":"quantitative"}}},
{"title":"Kernel smoothing density estimate for actual and simulated alpha","width":520.7,"height":225.5,"data":{"name":"kdeA"},"mark":{"type":"line","strokeWidth":1.9,"interpolate":"monotone"},
 "encoding":{"x":{"field":"x","type":"quantitative","scale":{"domain":[-0.124,0.302],"nice":false,"zero":false},"axis":{"values":[-0.1,-0.05,0,0.05,0.1,0.15,0.2,0.25,0.3],"labels":false,"title":null}},
 "y":{"field":"y","type":"quantitative","scale":{"domain":[1.71,5.39],"nice":false,"zero":false},"axis":{"values":[2,2.5,3,3.5,4,4.5,5],"format":".1f","title":"Frequency"}},
 "color":{"field":"s","type":"nominal","scale":{"domain":["Actual","Simulated"],"range":["#111111","#C44E52"]},"legend":{"orient":"none","legendX":410,"legendY":92,"title":null,"symbolType":"stroke","symbolStrokeWidth":2.15,"padding":6,"rowPadding":7.7}}}},
{"title":"Kernel smoothing density estimate for actual and simulated t-stat","width":520.7,"height":225.5,"data":{"name":"kdeT"},"mark":{"type":"line","strokeWidth":1.9,"interpolate":"monotone"},
 "encoding":{"x":{"field":"x","type":"quantitative","scale":{"domain":[-0.751,1.962],"nice":false,"zero":false},"axis":{"values":[-0.5,0,0.5,1,1.5],"labels":false,"title":null}},
 "y":{"field":"y","type":"quantitative","scale":{"domain":[0.267,0.989],"nice":false,"zero":false},"axis":{"values":[0.3,0.4,0.5,0.6,0.7,0.8,0.9],"format":".1f","title":"Frequency"}},
 "color":{"field":"s","type":"nominal","scale":{"domain":["Actual","Simulated"],"range":["#111111","#C44E52"]},"legend":{"orient":"none","legendX":404,"legendY":92,"title":null,"symbolType":"stroke","symbolStrokeWidth":2.15,"padding":6,"rowPadding":7.7}}}},

{"title":"Bootstrapped alphas: Best (FIJCX) fund","width":520.7,"height":225.5,"layer":[{"data":{"values":[{"v":0.284}]},"mark":{"type":"rule","color":"#222222","strokeWidth":1.03},"encoding":{"x":{"field":"v","type":"quantitative","scale":{"domain":[-0.4,0.7115],"nice":false,"zero":false},"axis":{"values":[-0.4,-0.2,0,0.2,0.4,0.6],"format":".1f","title":null}},"strokeDash":{"datum":"Actual : alpha = 0.28","scale":{"range":[[3.4,1.7]]},"legend":{"orient":"top-right","title":null,"symbolType":"stroke","symbolStrokeColor":"#222222","symbolStrokeWidth":1.1,"labelFontStyle":"italic"}}}},{"data":{"name":"A1"},"mark":{"type":"bar","fillOpacity":0.7,"stroke":"#000000","strokeOpacity":0.7,"strokeWidth":0.86},"encoding":{"x":{"field":"a","type":"quantitative"},"x2":{"field":"b"},"y":{"field":"n","type":"quantitative","scale":{"domain":[0,122.85],"nice":false},"axis":{"values":[0,20,40,60,80,100,120],"title":null}},"y2":{"datum":0},"fill":{"datum":"Simulated alpha","scale":{"range":["#64B5CD"]},"legend":{"orient":"top-right","title":null,"symbolType":"M-1,-0.35H1V0.35H-1Z","symbolStrokeColor":"#000000","symbolStrokeWidth":0.86,"symbolOpacity":0.7}}}},{"data":{"values":[{"v":0.284}]},"mark":{"type":"rule","color":"#222222","strokeDash":[3.4,1.7],"strokeWidth":1.03},"encoding":{"x":{"field":"v","type":"quantitative"}}}]},
{"title":"Bootstrapped t-stats: Best (VCSAX) fund","width":520.7,"height":225.5,"layer":[{"data":{"values":[{"v":1.845}]},"mark":{"type":"rule","color":"#222222","strokeWidth":1.03},"encoding":{"x":{"field":"v","type":"quantitative","scale":{"domain":[-2.512,4.352],"nice":false,"zero":false},"axis":{"values":[-2,-1,0,1,2,3,4],"format":"d","title":null}},"strokeDash":{"datum":"Actual : t − stat = 1.84","scale":{"range":[[3.4,1.7]]},"legend":{"orient":"top-left","title":null,"symbolType":"stroke","symbolStrokeColor":"#222222","symbolStrokeWidth":1.1,"labelFontStyle":"italic"}}}},{"data":{"name":"T1"},"mark":{"type":"bar","fillOpacity":0.7,"stroke":"#000000","strokeOpacity":0.7,"strokeWidth":0.86},"encoding":{"x":{"field":"a","type":"quantitative"},"x2":{"field":"b"},"y":{"field":"n","type":"quantitative","scale":{"domain":[0,120.75],"nice":false},"axis":{"values":[0,20,40,60,80,100,120],"title":null}},"y2":{"datum":0},"fill":{"datum":"Simulated t-stat","scale":{"range":["#64B5CD"]},"legend":{"orient":"top-left","title":null,"symbolType":"M-1,-0.35H1V0.35H-1Z","symbolStrokeColor":"#000000","symbolStrokeWidth":0.86,"symbolOpacity":0.7}}}},{"data":{"values":[{"v":1.845}]},"mark":{"type":"rule","color":"#222222","strokeDash":[3.4,1.7],"strokeWidth":1.03},"encoding":{"x":{"field":"v","type":"quantitative"}}}]},

{"title":"Bootstrapped alphas: 2nd Best (FDFAX) fund","width":520.7,"height":225.5,"layer":[{"data":{"values":[{"v":0.285}]},"mark":{"type":"rule","color":"#222222","strokeWidth":1.03},"encoding":{"x":{"field":"v","type":"quantitative","scale":{"domain":[-0.4195,0.7135],"nice":false,"zero":false},"axis":{"values":[-0.4,-0.2,0,0.2,0.4,0.6],"format":".1f","title":null}},"strokeDash":{"datum":"Actual : alpha = 0.28","scale":{"range":[[3.4,1.7]]},"legend":{"orient":"top-right","title":null,"symbolType":"stroke","symbolStrokeColor":"#222222","symbolStrokeWidth":1.1,"labelFontStyle":"italic"}}}},{"data":{"name":"A2"},"mark":{"type":"bar","fillOpacity":0.7,"stroke":"#000000","strokeOpacity":0.7,"strokeWidth":0.86},"encoding":{"x":{"field":"a","type":"quantitative"},"x2":{"field":"b"},"y":{"field":"n","type":"quantitative","scale":{"domain":[0,123.9],"nice":false},"axis":{"values":[0,20,40,60,80,100,120],"title":null}},"y2":{"datum":0},"fill":{"datum":"Simulated alpha","scale":{"range":["#64B5CD"]},"legend":{"orient":"top-right","title":null,"symbolType":"M-1,-0.35H1V0.35H-1Z","symbolStrokeColor":"#000000","symbolStrokeWidth":0.86,"symbolOpacity":0.7}}}},{"data":{"values":[{"v":0.285}]},"mark":{"type":"rule","color":"#222222","strokeDash":[3.4,1.7],"strokeWidth":1.03},"encoding":{"x":{"field":"v","type":"quantitative"}}}]},
{"title":"Bootstrapped t-stats: 2nd Best (FIJCX) fund","width":520.7,"height":225.5,"layer":[{"data":{"values":[{"v":1.548}]},"mark":{"type":"rule","color":"#222222","strokeWidth":1.03},"encoding":{"x":{"field":"v","type":"quantitative","scale":{"domain":[-2.659,4.359],"nice":false,"zero":false},"axis":{"values":[-2,-1,0,1,2,3,4],"format":"d","title":null}},"strokeDash":{"datum":"Actual : t − stat = 1.55","scale":{"range":[[3.4,1.7]]},"legend":{"orient":"top-right","title":null,"symbolType":"stroke","symbolStrokeColor":"#222222","symbolStrokeWidth":1.1,"labelFontStyle":"italic"}}}},{"data":{"name":"T2"},"mark":{"type":"bar","fillOpacity":0.7,"stroke":"#000000","strokeOpacity":0.7,"strokeWidth":0.86},"encoding":{"x":{"field":"a","type":"quantitative"},"x2":{"field":"b"},"y":{"field":"n","type":"quantitative","scale":{"domain":[0,123.9],"nice":false},"axis":{"values":[0,20,40,60,80,100,120],"title":null}},"y2":{"datum":0},"fill":{"datum":"Simulated t-stat","scale":{"range":["#64B5CD"]},"legend":{"orient":"top-right","title":null,"symbolType":"M-1,-0.35H1V0.35H-1Z","symbolStrokeColor":"#000000","symbolStrokeWidth":0.86,"symbolOpacity":0.7}}}},{"data":{"values":[{"v":1.548}]},"mark":{"type":"rule","color":"#222222","strokeDash":[3.4,1.7],"strokeWidth":1.03},"encoding":{"x":{"field":"v","type":"quantitative"}}}]},

{"title":"Bootstrapped alphas: 3rd Best (FDIGX) fund","width":520.7,"height":225.5,"layer":[{"data":{"values":[{"v":0.283}]},"mark":{"type":"rule","color":"#222222","strokeWidth":1.03},"encoding":{"x":{"field":"v","type":"quantitative","scale":{"domain":[-0.4215,0.6235],"nice":false,"zero":false},"axis":{"values":[-0.4,-0.2,0,0.2,0.4,0.6],"format":".1f","title":null}},"strokeDash":{"datum":"Actual : alpha = 0.28","scale":{"range":[[3.4,1.7]]},"legend":{"orient":"top-left","title":null,"symbolType":"stroke","symbolStrokeColor":"#222222","symbolStrokeWidth":1.1,"labelFontStyle":"italic"}}}},{"data":{"name":"A3"},"mark":{"type":"bar","fillOpacity":0.7,"stroke":"#000000","strokeOpacity":0.7,"strokeWidth":0.86},"encoding":{"x":{"field":"a","type":"quantitative"},"x2":{"field":"b"},"y":{"field":"n","type":"quantitative","scale":{"domain":[0,115.5],"nice":false},"axis":{"values":[0,20,40,60,80,100],"title":null}},"y2":{"datum":0},"fill":{"datum":"Simulated alpha","scale":{"range":["#64B5CD"]},"legend":{"orient":"top-left","title":null,"symbolType":"M-1,-0.35H1V0.35H-1Z","symbolStrokeColor":"#000000","symbolStrokeWidth":0.86,"symbolOpacity":0.7}}}},{"data":{"values":[{"v":0.283}]},"mark":{"type":"rule","color":"#222222","strokeDash":[3.4,1.7],"strokeWidth":1.03},"encoding":{"x":{"field":"v","type":"quantitative"}}}]},
{"title":"Bootstrapped t-stats: 3rd Best (FDFAX) fund","width":520.7,"height":225.5,"layer":[{"data":{"values":[{"v":1.542}]},"mark":{"type":"rule","color":"#222222","strokeWidth":1.03},"encoding":{"x":{"field":"v","type":"quantitative","scale":{"domain":[-2.646,3.646],"nice":false,"zero":false},"axis":{"values":[-2,-1,0,1,2,3],"format":"d","title":null}},"strokeDash":{"datum":"Actual : t − stat = 1.55","scale":{"range":[[3.4,1.7]]},"legend":{"orient":"top-left","title":null,"symbolType":"stroke","symbolStrokeColor":"#222222","symbolStrokeWidth":1.1,"labelFontStyle":"italic"}}}},{"data":{"name":"T3"},"mark":{"type":"bar","fillOpacity":0.7,"stroke":"#000000","strokeOpacity":0.7,"strokeWidth":0.86},"encoding":{"x":{"field":"a","type":"quantitative"},"x2":{"field":"b"},"y":{"field":"n","type":"quantitative","scale":{"domain":[0,108.15],"nice":false},"axis":{"values":[0,20,40,60,80,100],"title":null}},"y2":{"datum":0},"fill":{"datum":"Simulated t-stat","scale":{"range":["#64B5CD"]},"legend":{"orient":"top-left","title":null,"symbolType":"M-1,-0.35H1V0.35H-1Z","symbolStrokeColor":"#000000","symbolStrokeWidth":0.86,"symbolOpacity":0.7}}}},{"data":{"values":[{"v":1.542}]},"mark":{"type":"rule","color":"#222222","strokeDash":[3.4,1.7],"strokeWidth":1.03},"encoding":{"x":{"field":"v","type":"quantitative"}}}]},

{"title":"Bootstrapped alphas: 4th Best (VCSAX) fund","width":520.7,"height":225.5,"layer":[{"data":{"values":[{"v":0.273}]},"mark":{"type":"rule","color":"#222222","strokeWidth":1.03},"encoding":{"x":{"field":"v","type":"quantitative","scale":{"domain":[-0.4215,0.6235],"nice":false,"zero":false},"axis":{"values":[-0.4,-0.2,0,0.2,0.4,0.6],"format":".1f","title":null}},"strokeDash":{"datum":"Actual : alpha = 0.27","scale":{"range":[[3.4,1.7]]},"legend":{"orient":"top-left","title":null,"symbolType":"stroke","symbolStrokeColor":"#222222","symbolStrokeWidth":1.1,"labelFontStyle":"italic"}}}},{"data":{"name":"A4"},"mark":{"type":"bar","fillOpacity":0.7,"stroke":"#000000","strokeOpacity":0.7,"strokeWidth":0.86},"encoding":{"x":{"field":"a","type":"quantitative"},"x2":{"field":"b"},"y":{"field":"n","type":"quantitative","scale":{"domain":[0,109.2],"nice":false},"axis":{"values":[0,20,40,60,80,100],"title":null}},"y2":{"datum":0},"fill":{"datum":"Simulated alpha","scale":{"range":["#64B5CD"]},"legend":{"orient":"top-left","title":null,"symbolType":"M-1,-0.35H1V0.35H-1Z","symbolStrokeColor":"#000000","symbolStrokeWidth":0.86,"symbolOpacity":0.7}}}},{"data":{"values":[{"v":0.273}]},"mark":{"type":"rule","color":"#222222","strokeDash":[3.4,1.7],"strokeWidth":1.03},"encoding":{"x":{"field":"v","type":"quantitative"}}}]},
{"title":"Bootstrapped t-stats: 4th Best (FDIGX) fund","width":520.7,"height":225.5,"layer":[{"data":{"values":[{"v":1.548}]},"mark":{"type":"rule","color":"#222222","strokeWidth":1.03},"encoding":{"x":{"field":"v","type":"quantitative","scale":{"domain":[-2.646,3.646],"nice":false,"zero":false},"axis":{"values":[-2,-1,0,1,2,3],"format":"d","title":null}},"strokeDash":{"datum":"Actual : t − stat = 1.55","scale":{"range":[[3.4,1.7]]},"legend":{"orient":"top-right","title":null,"symbolType":"stroke","symbolStrokeColor":"#222222","symbolStrokeWidth":1.1,"labelFontStyle":"italic"}}}},{"data":{"name":"T4"},"mark":{"type":"bar","fillOpacity":0.7,"stroke":"#000000","strokeOpacity":0.7,"strokeWidth":0.86},"encoding":{"x":{"field":"a","type":"quantitative"},"x2":{"field":"b"},"y":{"field":"n","type":"quantitative","scale":{"domain":[0,103.95],"nice":false},"axis":{"values":[0,20,40,60,80,100],"title":null}},"y2":{"datum":0},"fill":{"datum":"Simulated t-stat","scale":{"range":["#64B5CD"]},"legend":{"orient":"top-right","title":null,"symbolType":"M-1,-0.35H1V0.35H-1Z","symbolStrokeColor":"#000000","symbolStrokeWidth":0.86,"symbolOpacity":0.7}}}},{"data":{"values":[{"v":1.548}]},"mark":{"type":"rule","color":"#222222","strokeDash":[3.4,1.7],"strokeWidth":1.03},"encoding":{"x":{"field":"v","type":"quantitative"}}}]},

{"title":"Bootstrapped alphas: 5th Best (FDAGX) fund","width":520.7,"height":225.5,"layer":[{"data":{"values":[{"v":0.262}]},"mark":{"type":"rule","color":"#222222","strokeWidth":1.03},"encoding":{"x":{"field":"v","type":"quantitative","scale":{"domain":[-0.483,0.6244],"nice":false,"zero":false},"axis":{"values":[-0.4,-0.2,0,0.2,0.4,0.6],"format":".1f","title":null}},"strokeDash":{"datum":"Actual : alpha = 0.26","scale":{"range":[[3.4,1.7]]},"legend":{"orient":"top-left","title":null,"symbolType":"stroke","symbolStrokeColor":"#222222","symbolStrokeWidth":1.1,"labelFontStyle":"italic"}}}},{"data":{"name":"A5"},"mark":{"type":"bar","fillOpacity":0.7,"stroke":"#000000","strokeOpacity":0.7,"strokeWidth":0.86},"encoding":{"x":{"field":"a","type":"quantitative"},"x2":{"field":"b"},"y":{"field":"n","type":"quantitative","scale":{"domain":[0,119.7],"nice":false},"axis":{"values":[0,20,40,60,80,100],"title":null}},"y2":{"datum":0},"fill":{"datum":"Simulated alpha","scale":{"range":["#64B5CD"]},"legend":{"orient":"top-left","title":null,"symbolType":"M-1,-0.35H1V0.35H-1Z","symbolStrokeColor":"#000000","symbolStrokeWidth":0.86,"symbolOpacity":0.7}}}},{"data":{"values":[{"v":0.262}]},"mark":{"type":"rule","color":"#222222","strokeDash":[3.4,1.7],"strokeWidth":1.03},"encoding":{"x":{"field":"v","type":"quantitative"}}}]},
{"title":"Bootstrapped t-stats: 5th Best (FDAGX) fund","width":520.7,"height":225.5,"layer":[{"data":{"values":[{"v":1.437}]},"mark":{"type":"rule","color":"#222222","strokeWidth":1.03},"encoding":{"x":{"field":"v","type":"quantitative","scale":{"domain":[-2.8315,3.6695],"nice":false,"zero":false},"axis":{"values":[-2,-1,0,1,2,3],"format":"d","title":null}},"strokeDash":{"datum":"Actual : t − stat = 1.43","scale":{"range":[[3.4,1.7]]},"legend":{"orient":"top-left","title":null,"symbolType":"stroke","symbolStrokeColor":"#222222","symbolStrokeWidth":1.1,"labelFontStyle":"italic"}}}},{"data":{"name":"T5"},"mark":{"type":"bar","fillOpacity":0.7,"stroke":"#000000","strokeOpacity":0.7,"strokeWidth":0.86},"encoding":{"x":{"field":"a","type":"quantitative"},"x2":{"field":"b"},"y":{"field":"n","type":"quantitative","scale":{"domain":[0,117.6],"nice":false},"axis":{"values":[0,20,40,60,80,100],"title":null}},"y2":{"datum":0},"fill":{"datum":"Simulated t-stat","scale":{"range":["#64B5CD"]},"legend":{"orient":"top-left","title":null,"symbolType":"M-1,-0.35H1V0.35H-1Z","symbolStrokeColor":"#000000","symbolStrokeWidth":0.86,"symbolOpacity":0.7}}}},{"data":{"values":[{"v":1.437}]},"mark":{"type":"rule","color":"#222222","strokeDash":[3.4,1.7],"strokeWidth":1.03},"encoding":{"x":{"field":"v","type":"quantitative"}}}]},

{"title":"Bootstrapped alphas: 5th Worst (RYPDX) fund","width":520.7,"height":225.5,"layer":[{"data":{"values":[{"v":0.184}]},"mark":{"type":"rule","color":"#222222","strokeWidth":1.03},"encoding":{"x":{"field":"v","type":"quantitative","scale":{"domain":[-0.586,0.4749],"nice":false,"zero":false},"axis":{"values":[-0.4,-0.2,0,0.2,0.4],"format":".1f","title":null}},"strokeDash":{"datum":"Actual : alpha = 0.18","scale":{"range":[[3.4,1.7]]},"legend":{"orient":"top-left","title":null,"symbolType":"stroke","symbolStrokeColor":"#222222","symbolStrokeWidth":1.1,"labelFontStyle":"italic"}}}},{"data":{"name":"A6"},"mark":{"type":"bar","fillOpacity":0.7,"stroke":"#000000","strokeOpacity":0.7,"strokeWidth":0.86},"encoding":{"x":{"field":"a","type":"quantitative"},"x2":{"field":"b"},"y":{"field":"n","type":"quantitative","scale":{"domain":[0,113.4],"nice":false},"axis":{"values":[0,20,40,60,80,100],"title":null}},"y2":{"datum":0},"fill":{"datum":"Simulated alpha","scale":{"range":["#64B5CD"]},"legend":{"orient":"top-left","title":null,"symbolType":"M-1,-0.35H1V0.35H-1Z","symbolStrokeColor":"#000000","symbolStrokeWidth":0.86,"symbolOpacity":0.7}}}},{"data":{"values":[{"v":0.184}]},"mark":{"type":"rule","color":"#222222","strokeDash":[3.4,1.7],"strokeWidth":1.03},"encoding":{"x":{"field":"v","type":"quantitative"}}}]},
{"title":"Bootstrapped t-stats: 5th Worst (RYCAX) fund","width":520.7,"height":225.5,"layer":[{"data":{"values":[{"v":1.132}]},"mark":{"type":"rule","color":"#222222","strokeWidth":1.03},"encoding":{"x":{"field":"v","type":"quantitative","scale":{"domain":[-3.7145,3.2265],"nice":false,"zero":false},"axis":{"values":[-3,-2,-1,0,1,2,3],"format":"d","title":null}},"strokeDash":{"datum":"Actual : t − stat = 1.13","scale":{"range":[[3.4,1.7]]},"legend":{"orient":"top-left","title":null,"symbolType":"stroke","symbolStrokeColor":"#222222","symbolStrokeWidth":1.1,"labelFontStyle":"italic"}}}},{"data":{"name":"T6"},"mark":{"type":"bar","fillOpacity":0.7,"stroke":"#000000","strokeOpacity":0.7,"strokeWidth":0.86},"encoding":{"x":{"field":"a","type":"quantitative"},"x2":{"field":"b"},"y":{"field":"n","type":"quantitative","scale":{"domain":[0,133.35],"nice":false},"axis":{"values":[0,20,40,60,80,100,120],"title":null}},"y2":{"datum":0},"fill":{"datum":"Simulated t-stat","scale":{"range":["#64B5CD"]},"legend":{"orient":"top-left","title":null,"symbolType":"M-1,-0.35H1V0.35H-1Z","symbolStrokeColor":"#000000","symbolStrokeWidth":0.86,"symbolOpacity":0.7}}}},{"data":{"values":[{"v":1.132}]},"mark":{"type":"rule","color":"#222222","strokeDash":[3.4,1.7],"strokeWidth":1.03},"encoding":{"x":{"field":"v","type":"quantitative"}}}]},

{"title":"Bootstrapped alphas: 4th Worst (RYCAX) fund","width":520.7,"height":225.5,"layer":[{"data":{"values":[{"v":0.17}]},"mark":{"type":"rule","color":"#222222","strokeWidth":1.03},"encoding":{"x":{"field":"v","type":"quantitative","scale":{"domain":[-0.586,0.4749],"nice":false,"zero":false},"axis":{"values":[-0.4,-0.2,0,0.2,0.4],"format":".1f","title":null}},"strokeDash":{"datum":"Actual : alpha = 0.17","scale":{"range":[[3.4,1.7]]},"legend":{"orient":"top-left","title":null,"symbolType":"stroke","symbolStrokeColor":"#222222","symbolStrokeWidth":1.1,"labelFontStyle":"italic"}}}},{"data":{"name":"A7"},"mark":{"type":"bar","fillOpacity":0.7,"stroke":"#000000","strokeOpacity":0.7,"strokeWidth":0.86},"encoding":{"x":{"field":"a","type":"quantitative"},"x2":{"field":"b"},"y":{"field":"n","type":"quantitative","scale":{"domain":[0,112.35],"nice":false},"axis":{"values":[0,20,40,60,80,100],"title":null}},"y2":{"datum":0},"fill":{"datum":"Simulated alpha","scale":{"range":["#64B5CD"]},"legend":{"orient":"top-left","title":null,"symbolType":"M-1,-0.35H1V0.35H-1Z","symbolStrokeColor":"#000000","symbolStrokeWidth":0.86,"symbolOpacity":0.7}}}},{"data":{"values":[{"v":0.17}]},"mark":{"type":"rule","color":"#222222","strokeDash":[3.4,1.7],"strokeWidth":1.03},"encoding":{"x":{"field":"v","type":"quantitative"}}}]},
{"title":"Bootstrapped t-stats: 4th Worst (FDCGX) fund","width":520.7,"height":225.5,"layer":[{"data":{"values":[{"v":1.09}]},"mark":{"type":"rule","color":"#222222","strokeWidth":1.03},"encoding":{"x":{"field":"v","type":"quantitative","scale":{"domain":[-3.7145,3.2265],"nice":false,"zero":false},"axis":{"values":[-3,-2,-1,0,1,2,3],"format":"d","title":null}},"strokeDash":{"datum":"Actual : t − stat = 1.09","scale":{"range":[[3.4,1.7]]},"legend":{"orient":"top-left","title":null,"symbolType":"stroke","symbolStrokeColor":"#222222","symbolStrokeWidth":1.1,"labelFontStyle":"italic"}}}},{"data":{"name":"T7"},"mark":{"type":"bar","fillOpacity":0.7,"stroke":"#000000","strokeOpacity":0.7,"strokeWidth":0.86},"encoding":{"x":{"field":"a","type":"quantitative"},"x2":{"field":"b"},"y":{"field":"n","type":"quantitative","scale":{"domain":[0,121.8],"nice":false},"axis":{"values":[0,20,40,60,80,100,120],"title":null}},"y2":{"datum":0},"fill":{"datum":"Simulated t-stat","scale":{"range":["#64B5CD"]},"legend":{"orient":"top-left","title":null,"symbolType":"M-1,-0.35H1V0.35H-1Z","symbolStrokeColor":"#000000","symbolStrokeWidth":0.86,"symbolOpacity":0.7}}}},{"data":{"values":[{"v":1.09}]},"mark":{"type":"rule","color":"#222222","strokeDash":[3.4,1.7],"strokeWidth":1.03},"encoding":{"x":{"field":"v","type":"quantitative"}}}]},

{"title":"Bootstrapped alphas: 3rd Worst (RYCPX) fund","width":520.7,"height":225.5,"layer":[{"data":{"values":[{"v":0.121}]},"mark":{"type":"rule","color":"#222222","strokeWidth":1.03},"encoding":{"x":{"field":"v","type":"quantitative","scale":{"domain":[-0.586,0.4749],"nice":false,"zero":false},"axis":{"values":[-0.4,-0.2,0,0.2,0.4],"format":".1f","title":null}},"strokeDash":{"datum":"Actual : alpha = 0.12","scale":{"range":[[3.4,1.7]]},"legend":{"orient":"top-left","title":null,"symbolType":"stroke","symbolStrokeColor":"#222222","symbolStrokeWidth":1.1,"labelFontStyle":"italic"}}}},{"data":{"name":"A8"},"mark":{"type":"bar","fillOpacity":0.7,"stroke":"#000000","strokeOpacity":0.7,"strokeWidth":0.86},"encoding":{"x":{"field":"a","type":"quantitative"},"x2":{"field":"b"},"y":{"field":"n","type":"quantitative","scale":{"domain":[0,117.6],"nice":false},"axis":{"values":[0,20,40,60,80,100],"title":null}},"y2":{"datum":0},"fill":{"datum":"Simulated alpha","scale":{"range":["#64B5CD"]},"legend":{"orient":"top-left","title":null,"symbolType":"M-1,-0.35H1V0.35H-1Z","symbolStrokeColor":"#000000","symbolStrokeWidth":0.86,"symbolOpacity":0.7}}}},{"data":{"values":[{"v":0.121}]},"mark":{"type":"rule","color":"#222222","strokeDash":[3.4,1.7],"strokeWidth":1.03},"encoding":{"x":{"field":"v","type":"quantitative"}}}]},
{"title":"Bootstrapped t-stats: 3rd Worst (RYCPX) fund","width":520.7,"height":225.5,"layer":[{"data":{"values":[{"v":0.815}]},"mark":{"type":"rule","color":"#222222","strokeWidth":1.03},"encoding":{"x":{"field":"v","type":"quantitative","scale":{"domain":[-3.706,2.872],"nice":false,"zero":false},"axis":{"values":[-3,-2,-1,0,1,2],"format":"d","title":null}},"strokeDash":{"datum":"Actual : t − stat = 0.81","scale":{"range":[[3.4,1.7]]},"legend":{"orient":"top-left","title":null,"symbolType":"stroke","symbolStrokeColor":"#222222","symbolStrokeWidth":1.1,"labelFontStyle":"italic"}}}},{"data":{"name":"T8"},"mark":{"type":"bar","fillOpacity":0.7,"stroke":"#000000","strokeOpacity":0.7,"strokeWidth":0.86},"encoding":{"x":{"field":"a","type":"quantitative"},"x2":{"field":"b"},"y":{"field":"n","type":"quantitative","scale":{"domain":[0,113.4],"nice":false},"axis":{"values":[0,20,40,60,80,100],"title":null}},"y2":{"datum":0},"fill":{"datum":"Simulated t-stat","scale":{"range":["#64B5CD"]},"legend":{"orient":"top-left","title":null,"symbolType":"M-1,-0.35H1V0.35H-1Z","symbolStrokeColor":"#000000","symbolStrokeWidth":0.86,"symbolOpacity":0.7}}}},{"data":{"values":[{"v":0.815}]},"mark":{"type":"rule","color":"#222222","strokeDash":[3.4,1.7],"strokeWidth":1.03},"encoding":{"x":{"field":"v","type":"quantitative"}}}]},

{"title":"Bootstrapped alphas: 2nd Worst (ICLEX) fund","width":520.7,"height":225.5,"layer":[{"data":{"values":[{"v":0.118}]},"mark":{"type":"rule","color":"#222222","strokeWidth":1.03},"encoding":{"x":{"field":"v","type":"quantitative","scale":{"domain":[-0.6141,0.4735],"nice":false,"zero":false},"axis":{"values":[-0.6,-0.4,-0.2,0,0.2,0.4],"format":".1f","title":null}},"strokeDash":{"datum":"Actual : alpha = 0.12","scale":{"range":[[3.4,1.7]]},"legend":{"orient":"top-left","title":null,"symbolType":"stroke","symbolStrokeColor":"#222222","symbolStrokeWidth":1.1,"labelFontStyle":"italic"}}}},{"data":{"name":"A9"},"mark":{"type":"bar","fillOpacity":0.7,"stroke":"#000000","strokeOpacity":0.7,"strokeWidth":0.86},"encoding":{"x":{"field":"a","type":"quantitative"},"x2":{"field":"b"},"y":{"field":"n","type":"quantitative","scale":{"domain":[0,109.2],"nice":false},"axis":{"values":[0,20,40,60,80,100],"title":null}},"y2":{"datum":0},"fill":{"datum":"Simulated alpha","scale":{"range":["#64B5CD"]},"legend":{"orient":"top-left","title":null,"symbolType":"M-1,-0.35H1V0.35H-1Z","symbolStrokeColor":"#000000","symbolStrokeWidth":0.86,"symbolOpacity":0.7}}}},{"data":{"values":[{"v":0.118}]},"mark":{"type":"rule","color":"#222222","strokeDash":[3.4,1.7],"strokeWidth":1.03},"encoding":{"x":{"field":"v","type":"quantitative"}}}]},
{"title":"Bootstrapped t-stats: 2nd Worst (ICLEX) fund","width":520.7,"height":225.5,"layer":[{"data":{"values":[{"v":0.605}]},"mark":{"type":"rule","color":"#222222","strokeWidth":1.03},"encoding":{"x":{"field":"v","type":"quantitative","scale":{"domain":[-3.7008,2.7398],"nice":false,"zero":false},"axis":{"values":[-3,-2,-1,0,1,2],"format":"d","title":null}},"strokeDash":{"datum":"Actual : t − stat = 0.62","scale":{"range":[[3.4,1.7]]},"legend":{"orient":"top-left","title":null,"symbolType":"stroke","symbolStrokeColor":"#222222","symbolStrokeWidth":1.1,"labelFontStyle":"italic"}}}},{"data":{"name":"T9"},"mark":{"type":"bar","fillOpacity":0.7,"stroke":"#000000","strokeOpacity":0.7,"strokeWidth":0.86},"encoding":{"x":{"field":"a","type":"quantitative"},"x2":{"field":"b"},"y":{"field":"n","type":"quantitative","scale":{"domain":[0,110.25],"nice":false},"axis":{"values":[0,20,40,60,80,100],"title":null}},"y2":{"datum":0},"fill":{"datum":"Simulated t-stat","scale":{"range":["#64B5CD"]},"legend":{"orient":"top-left","title":null,"symbolType":"M-1,-0.35H1V0.35H-1Z","symbolStrokeColor":"#000000","symbolStrokeWidth":0.86,"symbolOpacity":0.7}}}},{"data":{"values":[{"v":0.605}]},"mark":{"type":"rule","color":"#222222","strokeDash":[3.4,1.7],"strokeWidth":1.03},"encoding":{"x":{"field":"v","type":"quantitative"}}}]},

{"title":"Bootstrapped alphas: Worst (ICRAX) fund","width":520.7,"height":225.5,"layer":[{"data":{"values":[{"v":0.1}]},"mark":{"type":"rule","color":"#222222","strokeWidth":1.03},"encoding":{"x":{"field":"v","type":"quantitative","scale":{"domain":[-0.6204,0.3833],"nice":false,"zero":false},"axis":{"values":[-0.6,-0.4,-0.2,0,0.2],"format":".1f","title":null}},"strokeDash":{"datum":"Actual : alpha = 0.10","scale":{"range":[[3.4,1.7]]},"legend":{"orient":"top-left","title":null,"symbolType":"stroke","symbolStrokeColor":"#222222","symbolStrokeWidth":1.1,"labelFontStyle":"italic"}}}},{"data":{"name":"A10"},"mark":{"type":"bar","fillOpacity":0.7,"stroke":"#000000","strokeOpacity":0.7,"strokeWidth":0.86},"encoding":{"x":{"field":"a","type":"quantitative"},"x2":{"field":"b"},"y":{"field":"n","type":"quantitative","scale":{"domain":[0,103.95],"nice":false},"axis":{"values":[0,20,40,60,80,100],"title":null}},"y2":{"datum":0},"fill":{"datum":"Simulated alpha","scale":{"range":["#64B5CD"]},"legend":{"orient":"top-left","title":null,"symbolType":"M-1,-0.35H1V0.35H-1Z","symbolStrokeColor":"#000000","symbolStrokeWidth":0.86,"symbolOpacity":0.7}}}},{"data":{"values":[{"v":0.1}]},"mark":{"type":"rule","color":"#222222","strokeDash":[3.4,1.7],"strokeWidth":1.03},"encoding":{"x":{"field":"v","type":"quantitative"}}}]},
{"title":"Bootstrapped t-stats: Worst (ICRAX) fund","width":520.7,"height":225.5,"layer":[{"data":{"values":[{"v":0.528}]},"mark":{"type":"rule","color":"#222222","strokeWidth":1.03},"encoding":{"x":{"field":"v","type":"quantitative","scale":{"domain":[-3.8985,2.6025],"nice":false,"zero":false},"axis":{"values":[-3,-2,-1,0,1,2],"format":"d","title":null}},"strokeDash":{"datum":"Actual : t − stat = 0.53","scale":{"range":[[3.4,1.7]]},"legend":{"orient":"top-left","title":null,"symbolType":"stroke","symbolStrokeColor":"#222222","symbolStrokeWidth":1.1,"labelFontStyle":"italic"}}}},{"data":{"name":"T10"},"mark":{"type":"bar","fillOpacity":0.7,"stroke":"#000000","strokeOpacity":0.7,"strokeWidth":0.86},"encoding":{"x":{"field":"a","type":"quantitative"},"x2":{"field":"b"},"y":{"field":"n","type":"quantitative","scale":{"domain":[0,107.1],"nice":false},"axis":{"values":[0,20,40,60,80,100],"title":null}},"y2":{"datum":0},"fill":{"datum":"Simulated t-stat","scale":{"range":["#64B5CD"]},"legend":{"orient":"top-left","title":null,"symbolType":"M-1,-0.35H1V0.35H-1Z","symbolStrokeColor":"#000000","symbolStrokeWidth":0.86,"symbolOpacity":0.7}}}},{"data":{"values":[{"v":0.528}]},"mark":{"type":"rule","color":"#222222","strokeDash":[3.4,1.7],"strokeWidth":1.03},"encoding":{"x":{"field":"v","type":"quantitative"}}}]}
],
"config":{
"font":"Liberation Sans",
"view":{"fill":"#EAEAF2","stroke":null},
"axis":{"domain":false,"ticks":false,"gridColor":"#FFFFFF","gridWidth":1.12,"labelColor":"#262626","labelFontSize":13.2,"labelPadding":10,"titleColor":"#262626","titleFontSize":14.4,"titleFontWeight":"normal","titlePadding":5,"labelFlush":false,"labelOverlap":false},
"title":{"fontSize":14.4,"fontWeight":"bold","color":"#262626","offset":7,"baseline":"alphabetic"},
"legend":{"labelFontSize":13.2,"labelColor":"#262626","fillColor":"rgba(234,234,242,0.85)","strokeColor":"#CCCCCC","cornerRadius":3.5,"padding":4,"labelOffset":9.5,"offset":6,"symbolSize":711,"labelLimit":400,
 "layout":{"direction":"vertical","margin":0,"top-left":{"direction":"vertical","margin":0},"top-right":{"direction":"vertical","margin":0}}}
}
}
